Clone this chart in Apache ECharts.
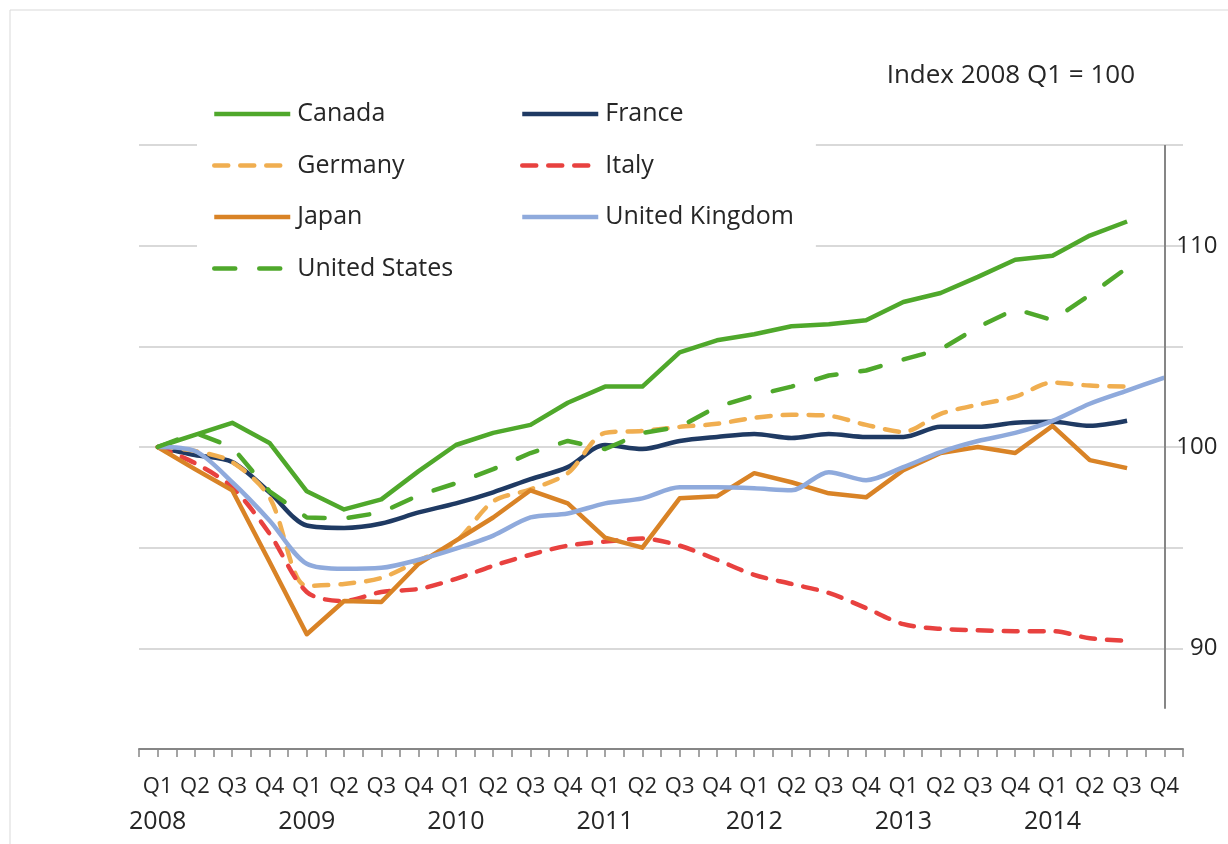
<!DOCTYPE html>
<html>
<head>
<meta charset="utf-8">
<title>GDP index, G7</title>
<script src="https://cdn.jsdelivr.net/npm/echarts@6/dist/echarts.min.js"></script>
<style>
  html, body { margin: 0; padding: 0; background: #fff; }
  #chart { width: 1228px; height: 844px; }
</style>
</head>
<body>
<div id="chart"></div>
<script>
// quarters 2008 Q1 .. 2014 Q4
const years = ['2008', '2009', '2010', '2011', '2012', '2013', '2014']
const quarters = ['Q1', 'Q2', 'Q3', 'Q4']
const categories = []
years.forEach(y => quarters.forEach(q => categories.push(y + ' ' + q)))

// index values, 2008 Q1 = 100
const canada  = [100, 100.6, 101.2, 100.2, 97.8, 96.9, 97.4, 98.8, 100.1, 100.7, 101.1, 102.2, 103.0, 103.0, 104.7, 105.3, 105.6, 106.0, 106.1, 106.3, 107.2, 107.65, 108.45, 109.3, 109.5, 110.5, 111.2, null]
const france  = [100, 99.6, 99.25, 97.75, 96.1, 95.98, 96.2, 96.75, 97.2, 97.75, 98.4, 99.0, 100.1, 99.9, 100.3, 100.5, 100.65, 100.45, 100.65, 100.5, 100.5, 101.0, 101.0, 101.2, 101.25, 101.05, 101.3, null]
const germany = [100, 99.8, 99.25, 97.5, 93.1, 93.2, 93.5, 94.35, 95.3, 97.3, 97.9, 98.7, 100.7, 100.8, 101.0, 101.15, 101.45, 101.6, 101.55, 101.1, 100.75, 101.65, 102.1, 102.5, 103.2, 103.05, 103.0, null]
const italy   = [100, 99.2, 98.0, 95.7, 92.8, 92.35, 92.8, 92.95, 93.45, 94.1, 94.65, 95.1, 95.3, 95.45, 95.1, 94.4, 93.65, 93.2, 92.75, 92.0, 91.2, 90.97, 90.9, 90.85, 90.85, 90.5, 90.37, null]
const japan   = [100, 98.9, 97.85, 94.3, 90.7, 92.35, 92.3, 94.2, 95.35, 96.5, 97.85, 97.2, 95.5, 95.0, 97.45, 97.55, 98.7, 98.25, 97.7, 97.5, 98.85, 99.7, 100.0, 99.7, 101.05, 99.35, 98.95, null]
const uk      = [100, 99.8, 98.25, 96.35, 94.2, 93.95, 94.0, 94.4, 94.95, 95.6, 96.5, 96.7, 97.2, 97.45, 98.0, 98.0, 97.95, 97.85, 98.75, 98.35, 99.0, 99.75, 100.3, 100.7, 101.3, 102.15, 102.8, 103.45]
const us      = [100, 100.7, 100.0, 97.8, 96.5, 96.45, 96.75, 97.6, 98.2, 98.9, 99.7, 100.3, 99.9, 100.7, 101.0, 102.0, 102.55, 103.0, 103.55, 103.8, 104.35, 104.85, 105.95, 106.85, 106.3, 107.55, 108.9, null]

const yLabelsShown = [90, 100, 110]

const font = '"Open Sans", "Liberation Sans", sans-serif'
const textColor = '#262626'
const axisGray = '#868686'

let chart = echarts.init(document.getElementById('chart'))

function lineSeries(name, data, color, dash, smooth) {
  return {
    name: name,
    type: 'line',
    data: data,
    symbol: 'none',
    smooth: smooth ? 0.3 : false,
    connectNulls: false,
    lineStyle: {
      color: color,
      width: 4.5,
      type: dash || 'solid',
      cap: dash ? 'round' : 'butt',
      join: 'round'
    },
    itemStyle: { color: color }
  }
}

let ukSeries = lineSeries('United Kingdom', uk, '#8FAADC', null, true)
// right value axis line (it stops short of the category axis in the original)
ukSeries.markLine = {
  silent: true,
  symbol: ['none', 'none'],
  label: { show: false },
  lineStyle: { color: axisGray, width: 2, type: 'solid' },
  data: [[{ coord: [categories[27], 87] }, { coord: [categories[27], 115] }]]
}

const legendText = { fontFamily: font, fontSize: 25, color: textColor, lineHeight: 26, padding: [0, 0, 0, 2] }

let option = {
  animation: false,
  backgroundColor: '#fff',
  textStyle: { fontFamily: font },
  graphic: [{
    type: 'rect',
    shape: { x: 10, y: 10, width: 1260, height: 900 },
    style: { fill: 'none', stroke: '#d9d9d9', lineWidth: 1 },
    silent: true
  }],
  title: {
    text: 'Index 2008 Q1 = 100',
    right: 93,
    top: 63,
    padding: 0,
    textStyle: { fontFamily: font, fontSize: 26, fontWeight: 'normal', color: textColor }
  },
  legend: [
    {
      data: ['Canada', 'Germany', 'Japan', 'United States'],
      orient: 'vertical',
      left: 197,
      top: 89,
      padding: [12, 60, 14, 15],
      backgroundColor: '#fff',
      itemWidth: 76,
      itemHeight: 14,
      itemGap: 25.5,
      itemStyle: { opacity: 0 },
      lineStyle: { width: 4.5 },
      textStyle: legendText
    },
    {
      data: ['France', 'Italy', 'United Kingdom'],
      orient: 'vertical',
      left: 505,
      top: 89,
      padding: [12, 22, 66, 15],
      backgroundColor: '#fff',
      itemWidth: 76,
      itemHeight: 14,
      itemGap: 25.5,
      itemStyle: { opacity: 0 },
      lineStyle: { width: 4.5 },
      textStyle: legendText
    }
  ],
  grid: {
    left: 139,
    right: 45,
    top: 145,
    bottom: 95,
    containLabel: false
  },
  xAxis: [
    {
      type: 'category',
      data: categories,
      boundaryGap: true,
      axisLine: { show: true, lineStyle: { color: axisGray, width: 2 } },
      axisTick: { show: false },
      axisLabel: {
        interval: 0,
        margin: 20,
        formatter: function (v) {
          let parts = v.split(' ')
          if (parts[1] === 'Q1') return '{q|' + parts[1] + '}\n{y|' + parts[0] + '}'
          return '{q|' + parts[1] + '}'
        },
        rich: {
          q: { fontFamily: font, fontSize: 22, color: textColor, lineHeight: 35 },
          y: { fontFamily: font, fontSize: 25, color: textColor, lineHeight: 35 }
        }
      },
      splitLine: { show: false }
    },
    {
      // tick marks every half quarter, as in the original axis
      type: 'value',
      position: 'bottom',
      min: 0,
      max: 28,
      interval: 0.5,
      axisLine: { show: false },
      axisTick: { show: true, length: 8, lineStyle: { color: axisGray, width: 1.5 } },
      axisLabel: { show: false },
      splitLine: { show: false }
    }
  ],
  yAxis: {
    type: 'value',
    position: 'right',
    offset: -18.6,
    min: 85,
    max: 115,
    interval: 5,
    axisLine: { show: false },
    axisTick: { show: false },
    axisLabel: {
      align: 'right',
      margin: 53,
      fontFamily: font,
      fontSize: 24,
      color: textColor,
      formatter: function (v) {
        return yLabelsShown.includes(v) ? String(v) : ''
      }
    },
    splitLine: { show: true, lineStyle: { color: '#d9d9d9', width: 2 } }
  },
  series: [
    lineSeries('Canada', canada, '#4FA82B'),
    lineSeries('France', france, '#1F3A63', null, true),
    lineSeries('Germany', germany, '#F0AE50', [14, 12], true),
    lineSeries('Italy', italy, '#E8413F', [14, 12], true),
    lineSeries('Japan', japan, '#D98326'),
    ukSeries,
    lineSeries('United States', us, '#4FA82B', [21, 24])
  ]
}

chart.setOption(option)
</script>
</body>
</html>
